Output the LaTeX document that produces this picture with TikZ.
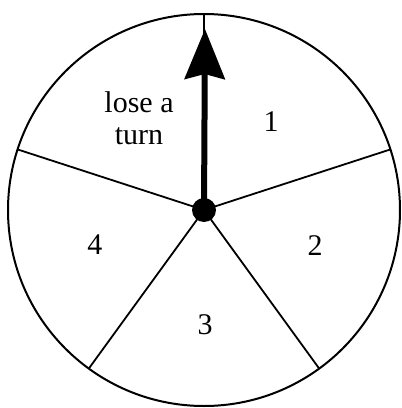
\documentclass[tikz,border=0pt]{standalone}
\usepackage{fontspec}
\setmainfont{Liberation Serif}
\usetikzlibrary{arrows.meta,calc}
\begin{document}
\begin{tikzpicture}[x=1pt,y=-1pt,
  rim/.style={line width=2pt},
  spoke/.style={line width=1.8pt},
  lbl/.style={font=\fontsize{30}{32}\selectfont, align=center, inner sep=0pt}]
\useasboundingbox (0,0) rectangle (402,408);
\coordinate (c) at (204,210);
\draw[rim] (c) circle[radius=196pt];
\foreach \a [count=\i] in {90,18,-54,-126,-198}
  \coordinate (p\i) at ($(c)+(\a:196pt)$);
\foreach \i in {1,...,5} \draw[spoke] (c) -- (p\i);
\coordinate (tip) at (205,29);
\draw[line width=6pt,-{Stealth[length=50pt,width=40pt,inset=5pt]}] (c) -- (tip);
\fill (c) circle[radius=12pt];
\node[lbl] (l0) at (139,118) {lose a\\turn};
\node[lbl] (l1) at (271,122) {1};
\node[lbl] (l2) at (315,246) {2};
\node[lbl] (l3) at (205,325) {3};
\node[lbl] (l4) at (95,245) {4};
\end{tikzpicture}
\end{document}
